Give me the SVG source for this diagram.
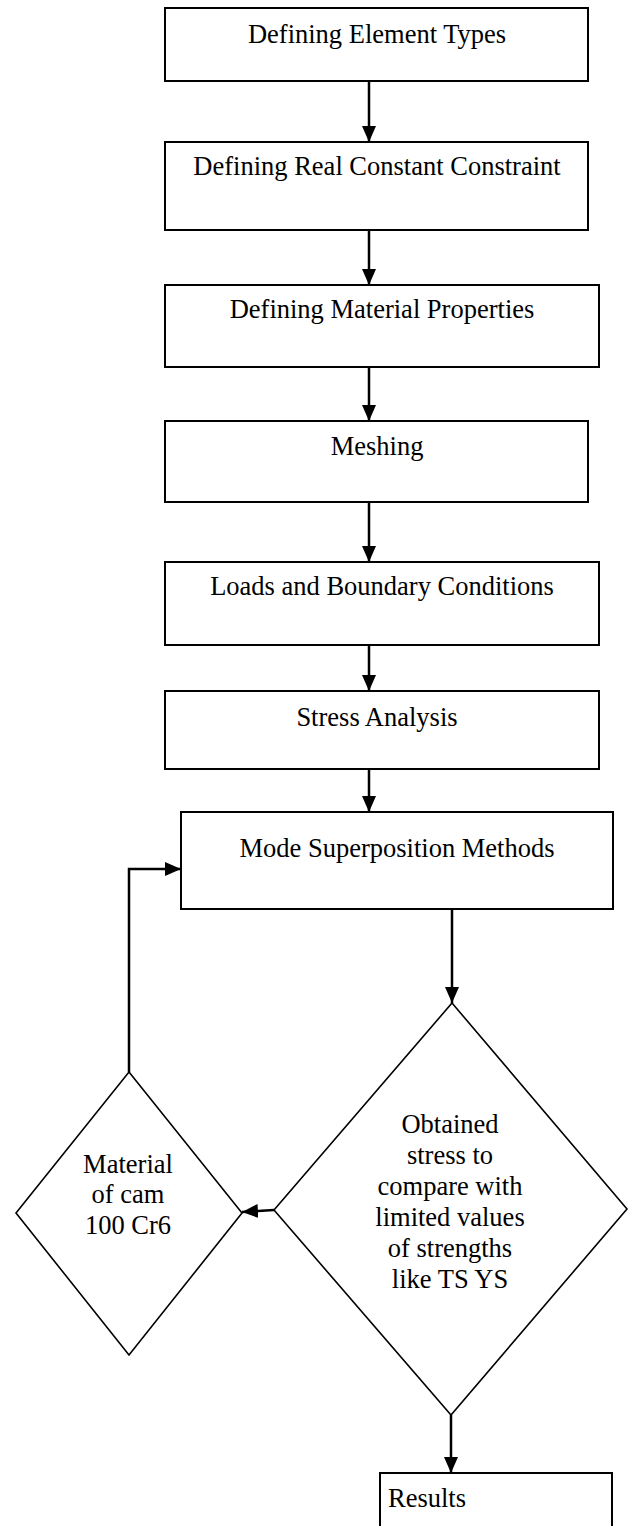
<svg xmlns="http://www.w3.org/2000/svg" width="633" height="1526" viewBox="0 0 633 1526">
<style>
.box{fill:#fff;stroke:#000;stroke-width:2}
.dia{fill:#fff;stroke:#000;stroke-width:1.6}
.t{font-family:"Liberation Serif","Times New Roman",serif;font-size:26.5px;fill:#000;text-anchor:middle}
.c{fill:none;stroke:#000;stroke-width:2.5}
</style>
<defs>
<marker id="ah" markerUnits="userSpaceOnUse" markerWidth="16" markerHeight="14" refX="16" refY="7" orient="auto">
<path d="M0,0 L16,7 L0,14 z" fill="#000"/>
</marker>
</defs>
<rect width="633" height="1526" fill="#fff"/>
<g id="n1"><rect class="box" x="165" y="8" width="423" height="73"/><text class="t" x="377" y="43">Defining Element Types</text></g>
<g id="n2"><rect class="box" x="165" y="142" width="423" height="88"/><text class="t" x="377" y="175">Defining Real Constant Constraint</text></g>
<g id="n3"><rect class="box" x="165" y="285" width="434" height="82"/><text class="t" x="382" y="318">Defining Material Properties</text></g>
<g id="n4"><rect class="box" x="165" y="421" width="423" height="81"/><text class="t" x="377" y="455">Meshing</text></g>
<g id="n5"><rect class="box" x="165" y="562" width="434" height="83"/><text class="t" x="382" y="595">Loads and Boundary Conditions</text></g>
<g id="n6"><rect class="box" x="165" y="691" width="434" height="78"/><text class="t" x="377" y="726">Stress Analysis</text></g>
<g id="n7"><rect class="box" x="181" y="812" width="432" height="97"/><text class="t" x="397" y="857">Mode Superposition Methods</text></g>
<g id="n8"><polygon class="dia" points="452,1003 627,1209 451,1415 274,1210"/>
<text class="t" x="450" y="1133">Obtained</text>
<text class="t" x="450" y="1164">stress to</text>
<text class="t" x="450" y="1195">compare with</text>
<text class="t" x="450" y="1226">limited values</text>
<text class="t" x="450" y="1257">of strengths</text>
<text class="t" x="450" y="1288">like TS YS</text></g>
<g id="n9"><polygon class="dia" points="129,1072 242,1213 129,1355 16,1213"/>
<text class="t" x="128" y="1173">Material</text>
<text class="t" x="128" y="1203">of cam</text>
<text class="t" x="128" y="1234">100 Cr6</text></g>
<g id="n10"><rect class="box" x="380" y="1473" width="232" height="70"/><text class="t" x="388" y="1507" style="text-anchor:start">Results</text></g>
<g id="connectors">
<line class="c" x1="369" y1="81" x2="369" y2="142" marker-end="url(#ah)"/>
<line class="c" x1="369" y1="230" x2="369" y2="285" marker-end="url(#ah)"/>
<line class="c" x1="369" y1="367" x2="369" y2="421" marker-end="url(#ah)"/>
<line class="c" x1="369" y1="502" x2="369" y2="562" marker-end="url(#ah)"/>
<line class="c" x1="369" y1="645" x2="369" y2="691" marker-end="url(#ah)"/>
<line class="c" x1="369" y1="769" x2="369" y2="812" marker-end="url(#ah)"/>
<line class="c" x1="452" y1="909" x2="452" y2="1003" marker-end="url(#ah)"/>
<line class="c" x1="274" y1="1210" x2="242" y2="1212" marker-end="url(#ah)"/>
<polyline class="c" points="129,1072 129,869 181,869" marker-end="url(#ah)"/>
<line class="c" x1="451" y1="1415" x2="451" y2="1473" marker-end="url(#ah)"/>
</g>
</svg>
